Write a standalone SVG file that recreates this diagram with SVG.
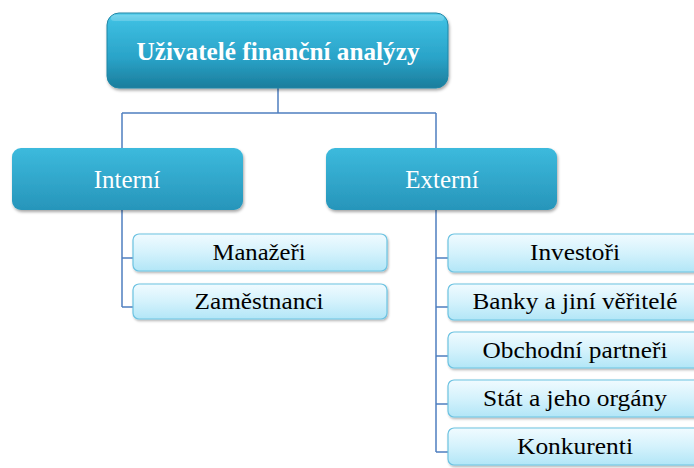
<svg xmlns="http://www.w3.org/2000/svg" width="694" height="468" viewBox="0 0 694 468">
<defs>
<linearGradient id="gTop" x1="0" y1="0" x2="0" y2="1">
<stop offset="0" stop-color="#5fd0ec"/>
<stop offset="0.12" stop-color="#3cbde0"/>
<stop offset="0.6" stop-color="#2aa3c8"/>
<stop offset="1" stop-color="#1b7d9c"/>
</linearGradient>
<linearGradient id="gMid" x1="0" y1="0" x2="0" y2="1">
<stop offset="0" stop-color="#3cbadd"/>
<stop offset="1" stop-color="#2795ba"/>
</linearGradient>
<linearGradient id="gLeaf" x1="0" y1="0" x2="0" y2="1">
<stop offset="0" stop-color="#f0fbff"/>
<stop offset="0.5" stop-color="#d4f2fc"/>
<stop offset="1" stop-color="#b2e6f7"/>
</linearGradient>
<filter id="sh" x="-10%" y="-20%" width="120%" height="150%">
<feDropShadow dx="1" dy="2" stdDeviation="1.5" flood-color="#000" flood-opacity="0.35"/>
</filter>
<filter id="shL" x="-10%" y="-20%" width="120%" height="150%">
<feDropShadow dx="1" dy="1.5" stdDeviation="1" flood-color="#000" flood-opacity="0.3"/>
</filter>
</defs>
<style>
.top{fill:url(#gTop);stroke:#1f86a6;stroke-width:1}
.mid{fill:url(#gMid);stroke:none}
.leaf{fill:url(#gLeaf);stroke:#6cc3e2;stroke-width:1.2}
.conn{fill:none;stroke:#4f7fc0;stroke-width:1.5}
.tTop{font-family:"Liberation Serif",serif;font-weight:bold;font-size:25px;fill:#ffffff;text-anchor:middle}
.tMid{font-family:"Liberation Serif",serif;font-size:25px;fill:#ffffff;text-anchor:middle}
.tLeaf{font-family:"Liberation Serif",serif;font-size:23px;fill:#000000;text-anchor:middle}
</style>
<rect width="694" height="468" fill="#ffffff"/>
<g id="connectors">
<path class="conn" d="M278,88 V113 M122,113 H436 M122,113 V150 M436,113 V150"/>
<path class="conn" d="M122,209 V307 M122,258 H135 M122,307 H135"/>
<path class="conn" d="M436,209 V452 M436,258 H450 M436,307 H450 M436,356 H450 M436,404 H450 M436,452 H450"/>
</g>
<g id="root">
<rect class="top" x="107" y="13" width="341" height="75" rx="12" filter="url(#sh)"/>
<rect x="111" y="15" width="333" height="6" rx="3" fill="#ffffff" opacity="0.18"/>
<text class="tTop" x="278" y="60" textLength="283" lengthAdjust="spacingAndGlyphs">Uživatelé finanční analýzy</text>
</g>
<g id="interni">
<rect class="mid" x="12" y="148" width="231" height="62" rx="9" filter="url(#sh)"/>
<text class="tMid" x="127" y="188">Interní</text>
</g>
<g id="externi">
<rect class="mid" x="326" y="148" width="231" height="62" rx="9" filter="url(#sh)"/>
<text class="tMid" x="442" y="188">Externí</text>
</g>
<g id="manazeri">
<rect class="leaf" x="133" y="234" width="254" height="37" rx="6" filter="url(#shL)"/>
<text class="tLeaf" x="259" y="260" textLength="93" lengthAdjust="spacingAndGlyphs">Manažeři</text>
</g>
<g id="zamestnanci">
<rect class="leaf" x="133" y="284" width="254" height="35" rx="6" filter="url(#shL)"/>
<text class="tLeaf" x="259" y="309" textLength="129" lengthAdjust="spacingAndGlyphs">Zaměstnanci</text>
</g>
<g id="investori">
<rect class="leaf" x="448" y="234" width="254" height="38" rx="6" filter="url(#shL)"/>
<text class="tLeaf" x="575" y="260" textLength="90" lengthAdjust="spacingAndGlyphs">Investoři</text>
</g>
<g id="banky">
<rect class="leaf" x="448" y="284" width="254" height="36" rx="6" filter="url(#shL)"/>
<text class="tLeaf" x="575" y="309" textLength="205" lengthAdjust="spacingAndGlyphs">Banky a jiní věřitelé</text>
</g>
<g id="obchodni">
<rect class="leaf" x="448" y="332" width="254" height="36" rx="6" filter="url(#shL)"/>
<text class="tLeaf" x="575" y="358" textLength="185" lengthAdjust="spacingAndGlyphs">Obchodní partneři</text>
</g>
<g id="stat">
<rect class="leaf" x="448" y="380" width="254" height="37" rx="6" filter="url(#shL)"/>
<text class="tLeaf" x="575" y="406" textLength="184" lengthAdjust="spacingAndGlyphs">Stát a jeho orgány</text>
</g>
<g id="konkurenti">
<rect class="leaf" x="448" y="428" width="254" height="37" rx="6" filter="url(#shL)"/>
<text class="tLeaf" x="575" y="454" textLength="116" lengthAdjust="spacingAndGlyphs">Konkurenti</text>
</g>
</svg>
